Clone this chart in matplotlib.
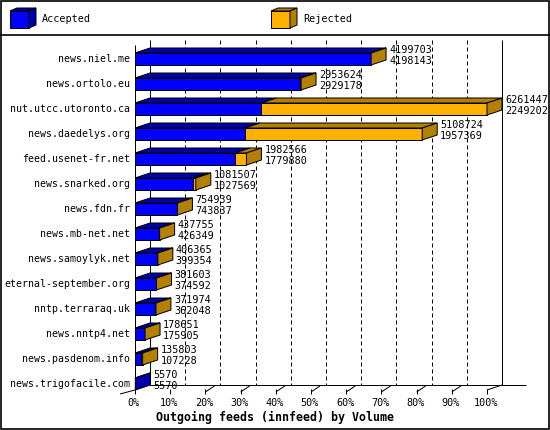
import numpy as np
import matplotlib.pyplot as plt
from matplotlib.patches import Polygon, Rectangle

hosts = ["news.niel.me", "news.ortolo.eu", "nut.utcc.utoronto.ca",
         "news.daedelys.org", "feed.usenet-fr.net", "news.snarked.org",
         "news.fdn.fr", "news.mb-net.net", "news.samoylyk.net",
         "eternal-september.org", "nntp.terraraq.uk", "news.nntp4.net",
         "news.pasdenom.info", "news.trigofacile.com"]
offered = [4199703, 2953624, 6261447, 5108724, 1982566, 1081507, 754939,
           437755, 406365, 381603, 371974, 178651, 135803, 5570]
accepted = [4198143, 2929178, 2249202, 1957369, 1779880, 1027569, 743837,
            426349, 399354, 374592, 362048, 175905, 107228, 5570]
ticks = [0, 10, 20, 30, 40, 50, 60, 70, 80, 90, 100]
legend_names = ["Accepted", "Rejected"]

BLUE, BLUE_DK = "#0000ff", "#0000aa"
ORANGE, ORANGE_DK = "#ffb000", "#b38000"
FONT = "DejaVu Sans Mono"
LW = 0.72  # one pixel

# geometry of the front plane, in pixels
X0, PX_PCT = 135, 3.52
Y0, PX_ROW = 59, 25
DX = 15 / PX_PCT
DY = 5 / PX_ROW
HALF = 6 / PX_ROW
TOP = (45 - Y0) / PX_ROW
FLOOR = (390 - Y0) / PX_ROW

fig = plt.figure(figsize=(5.5, 4.3), dpi=100)
ax = fig.add_axes([0, 0, 1, 1])
ax.set_xlim(-X0 / PX_PCT, (550 - X0) / PX_PCT)
ax.set_ylim((430 - Y0) / PX_ROW, -Y0 / PX_ROW)
ax.axis("off")


def face(axis, pts, color, z=3):
    axis.add_patch(Polygon(pts, closed=True, fc=color, ec="black", lw=LW,
                           zorder=z, joinstyle="miter"))


def line(xs, ys, z=2, **kw):
    ax.plot(xs, ys, color="black", lw=LW, zorder=z, solid_capstyle="butt", **kw)


# walls, floor and grid
for p in ticks[1:-1]:
    line([p + DX] * 2, [TOP - DY, FLOOR - DY], z=1, ls=(0, (4, 3)))
line([DX, DX], [TOP - DY, FLOOR - DY])
line([100 + DX] * 2, [TOP - DY, FLOOR - DY])
line([0, 0], [TOP, FLOOR])
line([DX, (526 - X0) / PX_PCT], [FLOOR - DY] * 2)
line([-DX, 0], [FLOOR + 4 / PX_ROW, FLOOR])
line([100, 100 + DX], [FLOOR, FLOOR - DY])
for p in ticks:
    line([p, p], [FLOOR - 1 / PX_ROW, FLOOR + 4 / PX_ROW])
    ax.text(p - 0.3, FLOOR + 13 / PX_ROW, f"{p}%", ha="center", va="center",
            family=FONT, fontsize=7.3)
    if 10 < p < 100:
        line([p, p + 9 / PX_PCT], [FLOOR + 2 / PX_ROW, FLOOR - 4 / PX_ROW])

total = 100 * np.array(offered) / max(offered)
acc = 100 * np.array(accepted) / max(offered)

for i, name in enumerate(hosts):
    y, t, a = i, total[i], acc[i]
    lo, hi = y - HALF, y + HALF
    face(ax, [(0, lo), (a, lo), (a, hi), (0, hi)], BLUE)
    face(ax, [(0, lo), (a, lo), (a + DX, lo - DY), (DX, lo - DY)], BLUE_DK)
    if t > a:
        face(ax, [(a, lo), (t, lo), (t, hi), (a, hi)], ORANGE)
        face(ax, [(a, lo), (t, lo), (t + DX, lo - DY), (a + DX, lo - DY)], ORANGE_DK)
    face(ax, [(t, lo), (t + DX, lo - DY), (t + DX, hi - DY), (t, hi)],
         ORANGE_DK if t > a else BLUE_DK)
    ax.text(-5 / PX_PCT, y, name, ha="right", va="center", family=FONT, fontsize=7.15)
    lx = t + DX + 3 / PX_PCT
    ax.text(lx, y - 9 / PX_ROW, str(offered[i]), va="center", family=FONT,
            fontsize=7.3, zorder=4)
    ax.text(lx, y + 2 / PX_ROW, str(accepted[i]), va="center", family=FONT,
            fontsize=7.3, zorder=4)

ax.text((274.5 - X0) / PX_PCT, (417 - Y0) / PX_ROW,
        "Outgoing feeds (innfeed) by Volume", ha="center", va="center",
        family=FONT, fontsize=8.4, weight="bold")

# frame and legend, in pixel coordinates
ov = fig.add_axes([0, 0, 1, 1], facecolor="none")
ov.set_xlim(0, 550)
ov.set_ylim(430, 0)
ov.axis("off")
ov.add_patch(Rectangle((0.5, 0.5), 548.5, 428.5, fill=False, ec="black", lw=1.2))
ov.plot([0, 550], [35, 35], color="black", lw=1.2)
for x, name, c, cd in zip([10, 271], legend_names, [BLUE, ORANGE], [BLUE_DK, ORANGE_DK]):
    face(ov, [(x, 11), (x + 19, 11), (x + 19, 28), (x, 28)], c)
    face(ov, [(x, 11), (x + 19, 11), (x + 26, 8), (x + 7, 8)], cd)
    face(ov, [(x + 19, 11), (x + 26, 8), (x + 26, 25), (x + 19, 28)], cd)
    ov.text(x + 32, 19.5, name, va="center", family=FONT, fontsize=7.3)

fig.savefig("out.png", dpi=100)
